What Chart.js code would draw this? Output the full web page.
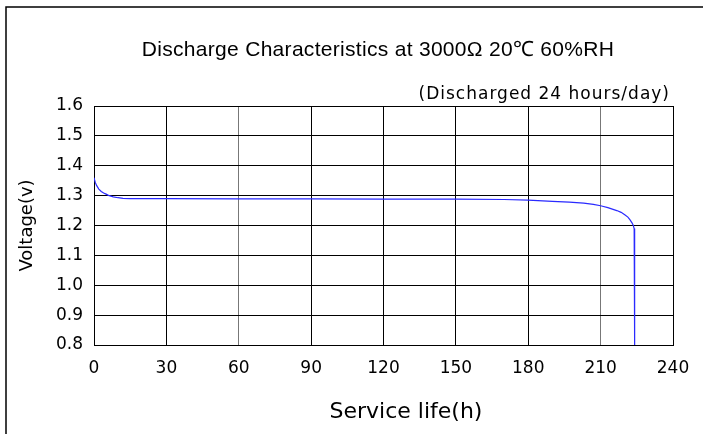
<!DOCTYPE html>
<html>
<head>
<meta charset="utf-8">
<title>Discharge Characteristics</title>
<script src="https://cdn.jsdelivr.net/npm/chart.js@4.4.1/dist/chart.umd.min.js"></script>
<style>
	html, body { margin: 0; padding: 0; background: #fff; }
	#wrap { width: 703px; height: 434px; }
</style>
</head>
<body>
<div id="wrap"><canvas id="dischargeChart" width="703" height="434"></canvas></div>
<script>

//service life in hours
var serviceHours = [0, 0.5, 1, 2, 3, 4, 5, 6, 8, 10, 12, 15, 30, 60, 90, 120, 150, 170, 180, 190,
	197, 203, 207, 210, 213, 216.7, 218.5, 220, 221.3, 222.2, 223, 223.5, 223.9, 224.1];
//voltage at each of those hours
var voltage = [1.360, 1.345, 1.335, 1.322, 1.314, 1.309, 1.305, 1.301, 1.296, 1.293, 1.291, 1.290, 1.290, 1.289, 1.289, 1.288, 1.288, 1.287, 1.285, 1.281,
	1.278, 1.275, 1.271, 1.266, 1.260, 1.250, 1.244, 1.236, 1.228, 1.219, 1.209, 1.201, 1.190, 0.800];

//axis tick values
var xTicks = [0, 30, 60, 90, 120, 150, 180, 210, 240];
var yTicks = [0.8, 0.9, 1.0, 1.1, 1.2, 1.3, 1.4, 1.5, 1.6];

var titleText = "Discharge Characteristics at 3000\u03A9 20\u2103 60%RH";
var subTitleText = "(Discharged 24 hours/day)";
var xTitleText = "Service life(h)";
var yTitleText = "Voltage(v)";

//build the point list for the chart
var points = [];
for (var i = 0; i < serviceHours.length; i++) {
	points.push({ x: serviceHours[i], y: voltage[i] });
}

var cadFont = "'DejaVu Sans', sans-serif";

//draws the outer frame, the title lines and the x axis title
var decorPlugin = {
	id: "decor",
	afterDraw: function(chart) {
		var ctx = chart.ctx;
		ctx.save();

		//outer frame (top and left only)
		ctx.strokeStyle = "#000";
		ctx.lineWidth = 1.5;
		ctx.beginPath();
		ctx.moveTo(6, 434);
		ctx.lineTo(6, 7);
		ctx.lineTo(703, 7);
		ctx.stroke();

		//main title
		ctx.fillStyle = "#000";
		ctx.font = "21px 'Liberation Sans', Arial, sans-serif";
		ctx.textAlign = "center";
		ctx.textBaseline = "alphabetic";
		ctx.letterSpacing = "0.3px";
		ctx.fillText(titleText, 378, 56);

		//sub title
		ctx.font = "17px " + cadFont;
		ctx.textAlign = "right";
		ctx.letterSpacing = "1px";
		ctx.fillText(subTitleText, 670, 99);

		//x axis title
		ctx.font = "22px " + cadFont;
		ctx.textAlign = "center";
		ctx.letterSpacing = "0px";
		ctx.fillText(xTitleText, 406, 418);

		ctx.restore();
	}
};

var ctx = document.getElementById("dischargeChart");
var dischargeChart = new Chart(ctx, {
	type: "scatter",
	data: {
		datasets: [{
			label: "Voltage",
			data: points,
			showLine: true,
			borderColor: "#2a2aff",
			borderWidth: 1.2,
			pointRadius: 0,
			tension: 0,
			fill: false
		}]
	},
	options: {
		responsive: false,
		animation: false,
		layout: { padding: { left: 0, right: 30, top: 106, bottom: 0 } },
		plugins: {
			legend: { display: false },
			title: { display: false },
			tooltip: { enabled: false }
		},
		scales: {
			x: {
				type: "linear",
				min: xTicks[0],
				max: xTicks[xTicks.length - 1],
				afterFit: function(scale) { scale.height = 89; },
				afterBuildTicks: function(scale) {
					scale.ticks = xTicks.map(function(v) { return { value: v }; });
				},
				ticks: {
					padding: 13,
					color: "#000",
					font: { family: cadFont, size: 17 },
					maxRotation: 0,
					callback: function(v) { return String(v); }
				},
				grid: {
					drawTicks: false,
					lineWidth: 1,
					color: function(c) {
						if (c.tick && (c.tick.value === 60 || c.tick.value === 210)) return "#777";
						return "#000";
					}
				},
				border: { display: true, color: "#000", width: 1 }
			},
			y: {
				type: "linear",
				min: yTicks[0],
				max: yTicks[yTicks.length - 1],
				afterFit: function(scale) { scale.width = 94; },
				afterBuildTicks: function(scale) {
					scale.ticks = yTicks.map(function(v) { return { value: v }; });
				},
				ticks: {
					padding: 11,
					color: "#000",
					font: { family: cadFont, size: 17 },
					callback: function(v) { return Number(v).toFixed(1); }
				},
				grid: {
					drawTicks: false,
					lineWidth: 1,
					color: "#000"
				},
				border: { display: true, color: "#000", width: 1 },
				title: {
					display: true,
					text: yTitleText,
					color: "#000",
					font: { family: cadFont, size: 18 },
					padding: { top: 17, bottom: 0 }
				}
			}
		}
	},
	plugins: [decorPlugin]
});
</script>
</body>
</html>
